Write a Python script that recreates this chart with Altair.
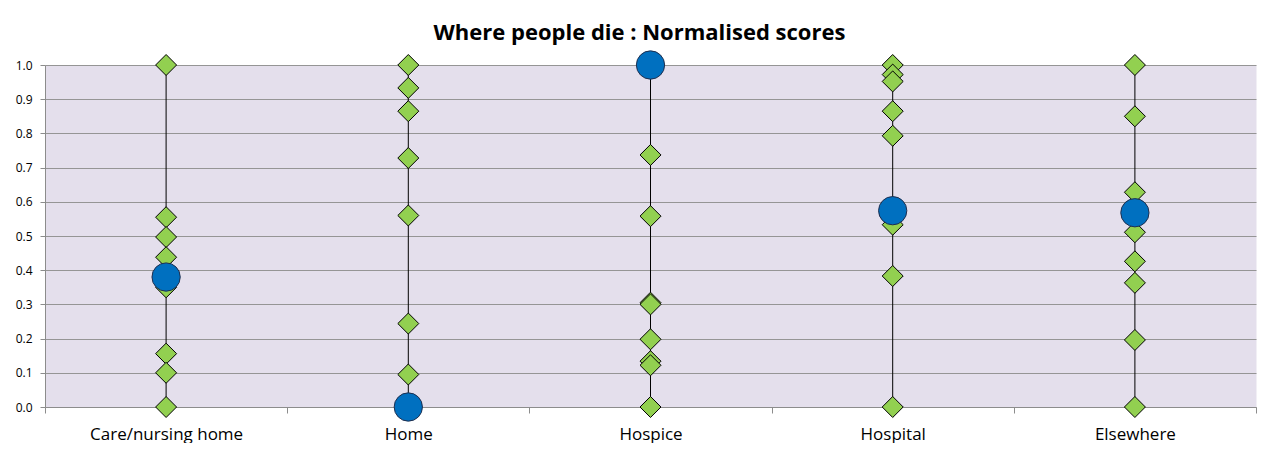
import altair as alt
import pandas as pd

categories = ["Care/nursing home", "Home", "Hospice", "Hospital", "Elsewhere"]

care_vals = [1.0, 0.555, 0.497, 0.438, 0.35, 0.156, 0.10, 0.0]
home_vals = [1.0, 0.933, 0.865, 0.728, 0.560, 0.244, 0.095, 0.0]
hospice_vals = [1.0, 0.737, 0.558, 0.305, 0.300, 0.198, 0.134, 0.122, 0.0]
hospital_vals = [1.0, 0.972, 0.952, 0.865, 0.793, 0.533, 0.383, 0.0]
elsewhere_vals = [1.0, 0.850, 0.628, 0.511, 0.426, 0.363, 0.196, 0.0]

highlight_vals = [0.380, 0.0, 1.0, 0.574, 0.568]

title_text = "Where people die : Normalised scores"
y_ticks = [0.0, 0.1, 0.2, 0.3, 0.4, 0.5, 0.6, 0.7, 0.8, 0.9, 1.0]

rows = []
for cat, vals in zip(categories, [care_vals, home_vals, hospice_vals, hospital_vals, elsewhere_vals]):
    for v in vals:
        rows.append({"category": cat, "value": v})
diamonds = pd.DataFrame(rows)
circles = pd.DataFrame({"category": categories, "value": highlight_vals})

FONT = "Open Sans"

x_axis = alt.Axis(
    title=None,
    labelAngle=0,
    tickBand="extent",
    tickSize=6,
    labelPadding=13,
    labelFontSize=17,
    labelFont=FONT,
    labelColor="#000000",
    domainColor="#8C8C8C",
    tickColor="#8C8C8C",
    grid=False,
)
y_axis = alt.Axis(
    title=None,
    values=y_ticks,
    format=".1f",
    tickSize=5,
    labelPadding=8,
    labelFontSize=12,
    labelFont=FONT,
    labelColor="#000000",
    domainColor="#8C8C8C",
    tickColor="#8C8C8C",
    gridColor="#959595",
    gridWidth=1,
    labelOverlap=False,
)
y_scale = alt.Scale(domain=[0, 1], nice=False, zero=True)
x_enc = alt.X("category:N", sort=categories,
              scale=alt.Scale(paddingInner=0, paddingOuter=0), axis=x_axis)
y_enc = alt.Y("value:Q", scale=y_scale, axis=y_axis)

rules = alt.Chart(diamonds).mark_rule(color="#000000", strokeWidth=1).encode(
    x=x_enc,
    y=alt.Y("min(value):Q", scale=y_scale, axis=y_axis),
    y2="max(value):Q",
)

pts = alt.Chart(diamonds).mark_point(
    shape="diamond", filled=True, fill="#92D050", stroke="#000000",
    strokeWidth=1, size=440, opacity=1
).encode(x=x_enc, y=y_enc)

circ = alt.Chart(circles).mark_point(
    shape="circle", filled=True, fill="#0070C0", stroke="#1F2F4F",
    strokeWidth=1, size=800, opacity=1
).encode(x=x_enc, y=y_enc)

chart = alt.layer(rules, pts, circ).properties(
    width=1211,
    height=342,
    title=alt.TitleParams(
        text=title_text, font=FONT, fontSize=22, fontWeight="bold",
        color="#000000", anchor="middle", offset=4, dx=-11,
    ),
    padding={"left": 37, "top": 57, "right": 10, "bottom": 36},
    autosize=alt.AutoSizeParams(type="none"),
).configure_view(fill="#E4DFEC", stroke="transparent")

chart.save("out.html", embed_options={"renderer": "svg", "actions": False})
